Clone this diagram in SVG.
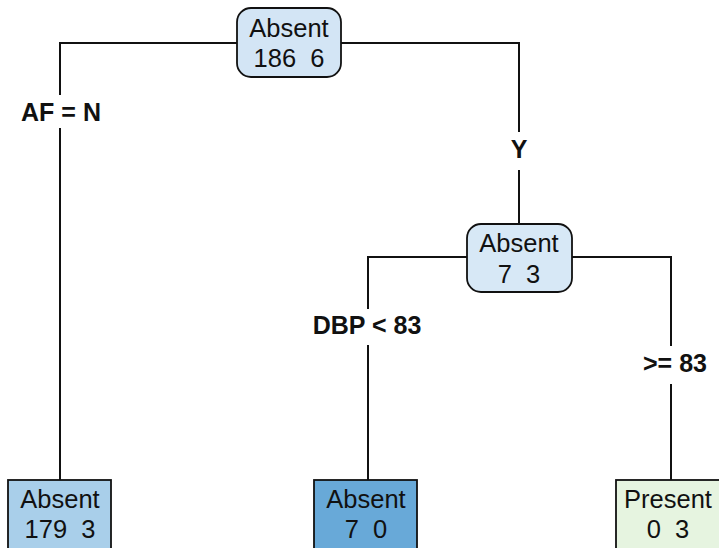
<svg xmlns="http://www.w3.org/2000/svg" width="719" height="548" viewBox="0 0 719 548">
<style>
.n{stroke:#111;stroke-width:1.8}
.t{font-family:"Liberation Sans",Arial,sans-serif;font-size:25.5px;fill:#111;text-anchor:middle;white-space:pre}
.l{font-family:"Liberation Sans",Arial,sans-serif;font-size:25px;font-weight:bold;fill:#111;text-anchor:middle}
.c{fill:none;stroke:#111;stroke-width:2}
</style>
<rect width="719" height="548" fill="#fff"/>
<g id="connectors">
<path class="c" d="M60,480 V128 M60,95 V43 H519 V132 M519,170 V224"/>
<path class="c" d="M368,480 V345 M368,309 V257 H671 V346 M671,384 V480"/>
</g>
<g id="labels">
<text class="l" x="61" y="121">AF = N</text>
<text class="l" x="519" y="158">Y</text>
<text class="l" x="367" y="334">DBP &lt; 83</text>
<text class="l" x="675" y="372">&gt;= 83</text>
</g>
<g id="root">
<rect class="n" x="237" y="8" width="104" height="69" rx="14" fill="#d3e5f5"/>
<text class="t" x="289" y="37">Absent</text>
<text class="t" x="289" y="67">186  6</text>
</g>
<g id="node2">
<rect class="n" x="467" y="224" width="105" height="68" rx="14" fill="#d7e8f6"/>
<text class="t" x="519" y="252">Absent</text>
<text class="t" x="519" y="283">7  3</text>
</g>
<g id="leaf1">
<rect class="n" x="8" y="480" width="103" height="72" fill="#a9cfea"/>
<text class="t" x="60" y="508">Absent</text>
<text class="t" x="60" y="538">179  3</text>
</g>
<g id="leaf2">
<rect class="n" x="314" y="480" width="103" height="72" fill="#68a9d8"/>
<text class="t" x="366" y="508">Absent</text>
<text class="t" x="366" y="538">7  0</text>
</g>
<g id="leaf3">
<rect class="n" x="616" y="480" width="106" height="72" fill="#e6f4e0"/>
<text class="t" x="668" y="508">Present</text>
<text class="t" x="668" y="538">0  3</text>
</g>
</svg>
